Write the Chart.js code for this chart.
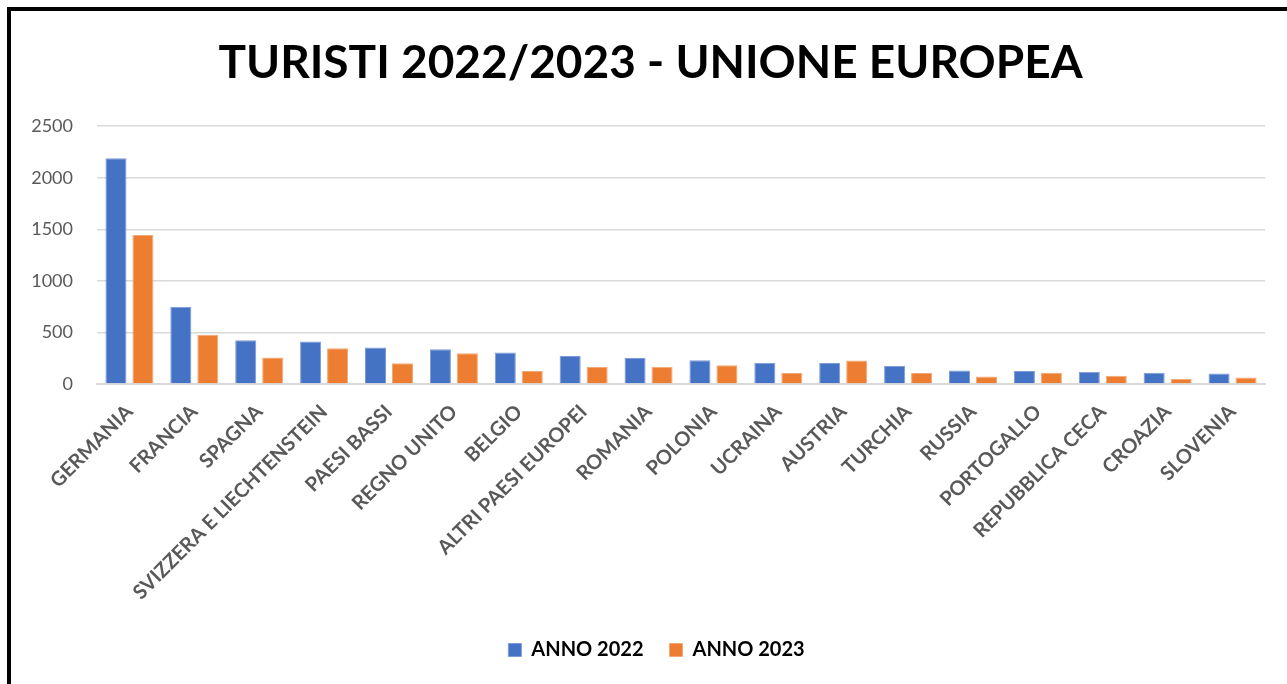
<!DOCTYPE html>
<html lang="it">
<head>
<meta charset="utf-8">
<title>Turisti 2022/2023 - Unione Europea</title>
<script src="https://cdn.jsdelivr.net/npm/chart.js@4.4.1/dist/chart.umd.min.js"></script>
<style>
  html, body { margin: 0; padding: 0; background: #ffffff; }
  body { width: 1287px; height: 684px; overflow: hidden; position: relative; }
  #frame {
    position: absolute; left: 7px; top: 7px; right: 0; bottom: 0;
    border-top: 4px solid #000; border-left: 4px solid #000;
    pointer-events: none;
  }
  #wrap { position: absolute; left: 0; top: 0; width: 1287px; height: 684px; }
</style>
</head>
<body>
<div id="wrap"><canvas id="chart" width="1287" height="684"></canvas></div>
<div id="frame"></div>
<script>
// Countries of origin, in the order shown on the axis
const paesi = [
  'GERMANIA', 'FRANCIA', 'SPAGNA', 'SVIZZERA E LIECHTENSTEIN', 'PAESI BASSI',
  'REGNO UNITO', 'BELGIO', 'ALTRI PAESI EUROPEI', 'ROMANIA', 'POLONIA',
  'UCRAINA', 'AUSTRIA', 'TURCHIA', 'RUSSIA', 'PORTOGALLO',
  'REPUBBLICA CECA', 'CROAZIA', 'SLOVENIA'
];

// Tourist arrivals per year
const anno2022 = [2190, 750, 425, 412, 354, 338, 305, 272, 253, 230, 207, 204, 178, 130, 127, 120, 110, 103];
const anno2023 = [1445, 477, 257, 347, 201, 297, 127, 165, 168, 181, 107, 227, 107, 73, 110, 81, 49, 63];

const serieNomi = ['ANNO 2022', 'ANNO 2023'];
const titolo = 'TURISTI 2022/2023 - UNIONE EUROPEA';
const yTicks = [0, 500, 1000, 1500, 2000, 2500];

const fontBase = "Lato, 'Open Sans', sans-serif";
const grigio = '#595959';

// Title and legend are centred on the whole frame, not just the plot box
const centraggio = {
  id: 'centraggio',
  afterLayout(chart) {
    const sposta = (box, dx) => { if (box) { box.left += dx; box.right += dx; } };
    sposta(chart.titleBlock, 12);
    sposta(chart.legend, 18);
  }
};

new Chart(document.getElementById('chart'), {
  type: 'bar',
  plugins: [centraggio],
  data: {
    labels: paesi,
    datasets: [
      {
        label: serieNomi[0],
        data: anno2022,
        backgroundColor: '#4472C4',
        borderColor: '#7f9ad6',
        borderWidth: 1,
        categoryPercentage: 0.832,
        barPercentage: 0.78
      },
      {
        label: serieNomi[1],
        data: anno2023,
        backgroundColor: '#ED7D31',
        borderColor: '#f3a877',
        borderWidth: 1,
        categoryPercentage: 0.832,
        barPercentage: 0.78
      }
    ]
  },
  options: {
    responsive: false,
    animation: false,
    layout: { padding: { left: 12, right: 22, top: 36, bottom: 14 } },
    plugins: {
      title: {
        display: true,
        text: titolo,
        color: '#000000',
        font: { family: fontBase, size: 46, weight: 'bold' },
        padding: { top: 0, bottom: 35 }
      },
      legend: {
        display: true,
        position: 'bottom',
        labels: {
          color: '#000000',
          font: { family: fontBase, size: 20, weight: 'bold' },
          boxWidth: 13,
          boxHeight: 13,
          padding: 26
        }
      },
      tooltip: { enabled: false }
    },
    scales: {
      x: {
        grid: { display: false, drawTicks: false },
        border: { display: true, color: '#d9d9d9', width: 2 },
        ticks: {
          color: grigio,
          font: { family: fontBase, size: 20, weight: 'bold' },
          minRotation: 45,
          maxRotation: 45,
          autoSkip: false,
          padding: 16
        },
        afterFit: (scale) => { scale.height = 230; }
      },
      y: {
        min: 0,
        max: 2500,
        grid: { color: '#d9d9d9', lineWidth: 1.5, drawTicks: false },
        border: { display: false },
        afterBuildTicks: (scale) => { scale.ticks = yTicks.map(v => ({ value: v })); },
        ticks: {
          color: grigio,
          font: { family: fontBase, size: 18 },
          padding: 24,
          callback: (v) => String(v)
        },
        afterFit: (scale) => { scale.width = 85; }
      }
    }
  }
});
</script>
</body>
</html>
